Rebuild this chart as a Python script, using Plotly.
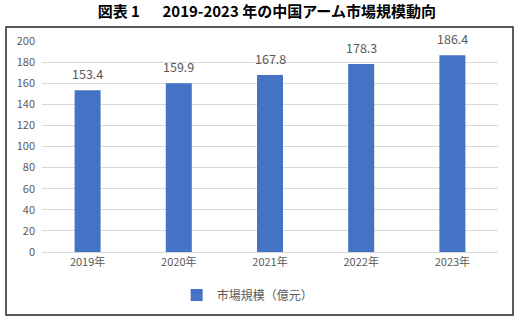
import plotly.graph_objects as go

# China arm market size, 2019-2023 (100 million yuan)
years = ["2019年", "2020年", "2021年", "2022年", "2023年"]
market_size = [153.4, 159.9, 167.8, 178.3, 186.4]
y_ticks = [0, 20, 40, 60, 80, 100, 120, 140, 160, 180, 200]
series_name = "市場規模（億元）"
title_text = "図表 1\u3000\u20022019-2023 年の中国アーム市場規模動向"

BAR_COLOR = "#4472C4"
TEXT_COLOR = "#595959"
GRID_COLOR = "#D9D9D9"
FONT = "Noto Sans CJK JP"

fig = go.Figure()

fig.add_trace(go.Bar(
    x=years,
    y=market_size,
    marker=dict(color=BAR_COLOR, line=dict(width=0)),
    showlegend=False,
    hoverinfo="x+y",
))

# value labels above each bar
for yr, v in zip(years, market_size):
    fig.add_annotation(
        x=yr, y=v, xref="x", yref="y",
        text=f"{v:.1f}",
        showarrow=False,
        yanchor="bottom",
        yshift=5,
        font=dict(size=12.5, color=TEXT_COLOR, family=FONT),
    )

# legend entry with a small square swatch
fig.add_trace(go.Scatter(
    x=[None], y=[None],
    mode="markers",
    marker=dict(symbol="square", size=8, color=BAR_COLOR),
    name=series_name,
    showlegend=True,
))

# outer frame around the chart body
fig.add_shape(
    type="rect", xref="paper", yref="paper",
    x0=-0.0789, x1=1.0329, y0=-0.2986, y1=1.0664,
    line=dict(color="#262626", width=1.5),
    fillcolor="rgba(0,0,0,0)",
    layer="below",
)

fig.update_layout(
    width=521,
    height=322,
    margin=dict(l=42, r=23, t=41, b=70),
    paper_bgcolor="white",
    plot_bgcolor="white",
    bargap=0.715,
    font=dict(family=FONT, color=TEXT_COLOR, size=11),
    title=dict(
        text=title_text,
        font=dict(family=FONT, size=15, color="#000000", weight="bold"),
        x=0.493, xanchor="center",
        y=1 - 12 / 322, yanchor="middle",
        yref="container", xref="paper",
    ),
    xaxis=dict(
        showgrid=False,
        showline=True,
        linecolor=GRID_COLOR,
        linewidth=1,
        ticks="",
        tickfont=dict(size=11, color=TEXT_COLOR, family=FONT),
        fixedrange=True,
    ),
    yaxis=dict(
        range=[0, 200],
        tickvals=y_ticks,
        showgrid=True,
        gridcolor=GRID_COLOR,
        gridwidth=1,
        zeroline=False,
        showline=False,
        ticks="",
        ticklabelstandoff=6,
        tickfont=dict(size=11, color=TEXT_COLOR, family=FONT),
        fixedrange=True,
    ),
    legend=dict(
        orientation="h",
        x=0.451, xanchor="center",
        y=-0.204, yanchor="middle",
        font=dict(size=12, color=TEXT_COLOR, family=FONT),
        itemsizing="constant",
        itemwidth=30,
        bgcolor="rgba(0,0,0,0)",
    ),
)

fig.write_html("out.html")
